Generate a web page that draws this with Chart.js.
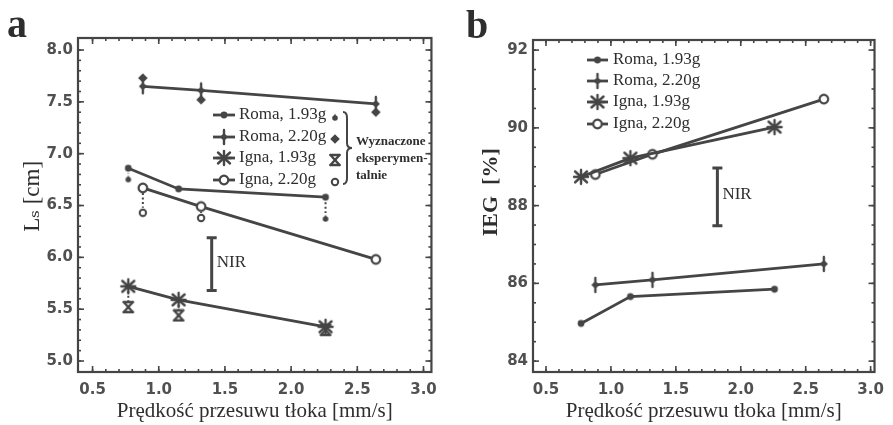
<!DOCTYPE html>
<html>
<head>
<meta charset="utf-8">
<script src="https://cdn.jsdelivr.net/npm/chart.js@4.4.1/dist/chart.umd.min.js"></script>
<style>
	body { margin: 0; background: #fff; width: 893px; height: 425px; overflow: hidden; position: relative; }
	#chartA { position: absolute; left: 0; top: 0; }
	#chartB { position: absolute; left: 446px; top: 0; }
</style>
</head>
<body>
<canvas id="chartA" width="446" height="425"></canvas>
<canvas id="chartB" width="447" height="425"></canvas>
<script>
// piston speed [mm/s] for the two seed masses
const speed193 = [0.77, 1.15, 2.26];
const speed220 = [0.88, 1.32, 2.64];

// panel a: length [cm], model lines and experimental points
const lenRoma193 = [6.86, 6.66, 6.58];
const lenRoma220 = [7.65, 7.61, 7.48];
const lenIgna193 = [5.72, 5.59, 5.33];
const lenIgna220 = [6.67, 6.49, 5.98];
const lenRoma193Exp = [6.76, null, 6.38];
const lenRoma220Exp = [7.73, 7.52, 7.40];
const lenIgna193Exp = [5.52, 5.44, 5.30];
const lenIgna220Exp = [6.43, 6.38, null];

// panel b: IEG [%]
const iegRoma193 = [84.97, 85.66, 85.85];
const iegRoma220 = [85.96, 86.09, 86.50];
const iegIgna193 = [88.74, 89.22, 90.02];
const iegIgna220 = [88.80, 89.32, 90.74];

// NIR bars
const nirAx = 1.40;
const nirA = [5.68, 6.19];
const nirBx = 1.82;
const nirB = [87.48, 88.97];

const seriesLabels = ["Roma, 1.93g", "Roma, 2.20g", "Igna, 1.93g", "Igna, 2.20g"];
const expLabel = ["Wyznaczone", "eksperymen-", "talnie"];
const xTicks = [0.5, 1.0, 1.5, 2.0, 2.5, 3.0];
const lenTicks = [5.0, 5.5, 6.0, 6.5, 7.0, 7.5, 8.0];
const iegTicks = [84, 86, 88, 90, 92];

const INK = "#454545";
const TEXT = "#2e2e2e";
const SERIF = "'Liberation Serif', 'DejaVu Serif', serif";
const SANS = "'DejaVu Sans', sans-serif";

function marker(size, draw) {
	const c = document.createElement("canvas");
	c.width = c.height = size;
	const g = c.getContext("2d");
	g.translate(size / 2, size / 2);
	g.strokeStyle = INK;
	g.fillStyle = INK;
	g.lineWidth = 2;
	g.lineCap = "round";
	draw(g);
	return c;
}

function seg(g, x0, y0, x1, y1) {
	g.beginPath();
	g.moveTo(x0, y0);
	g.lineTo(x1, y1);
	g.stroke();
}

function diamond(g, r) {
	g.beginPath();
	g.moveTo(0, -r);
	g.lineTo(r, 0);
	g.lineTo(0, r);
	g.lineTo(-r, 0);
	g.closePath();
	g.fill();
}

const markers = {
	dot: marker(10, g => { g.beginPath(); g.arc(0, 0, 3.4, 0, Math.PI * 2); g.fill(); }),
	plus: marker(18, g => { diamond(g, 4); g.lineWidth = 2.4; seg(g, 0, -7, 0, 7); }),
	star: marker(18, g => {
		g.lineWidth = 2.4;
		seg(g, 0, -7, 0, 7);
		seg(g, -7, 0, 7, 0);
		seg(g, -6, -5.5, 6, 5.5);
		seg(g, 6, -5.5, -6, 5.5);
	}),
	ring: marker(14, g => {
		g.lineWidth = 2.2;
		g.beginPath(); g.arc(0, 0, 4.3, 0, Math.PI * 2);
		g.fillStyle = "#fff"; g.fill(); g.stroke();
	}),
	expDot: marker(10, g => {
		g.beginPath(); g.arc(0, 1, 2.8, 0, Math.PI * 2); g.fill();
		g.beginPath(); g.moveTo(-1.4, 0); g.lineTo(0, -3.8); g.lineTo(1.4, 0); g.fill();
	}),
	expDiamond: marker(12, g => diamond(g, 4.8)),
	expHour: marker(14, g => {
		g.lineWidth = 2.4;
		seg(g, -4.5, -5, 4.5, -5);
		seg(g, -4.5, 5, 4.5, 5);
		seg(g, -4.5, -5, 4.5, 5);
		seg(g, 4.5, -5, -4.5, 5);
	}),
	expRing: marker(10, g => {
		g.lineWidth = 2;
		g.beginPath(); g.arc(0, 0, 3.2, 0, Math.PI * 2);
		g.fillStyle = "#fff"; g.fill(); g.stroke();
	}),
};

const pts = (xs, ys) => xs.map((x, i) => ({ x, y: ys[i] })).filter(p => p.y !== null);

function modelSet(label, xs, ys, m) {
	return {
		label, data: pts(xs, ys), showLine: true,
		borderColor: INK, borderWidth: 2.8, pointStyle: markers[m],
		pointRadius: 5, pointHoverRadius: 5,
	};
}

function expSet(label, xs, ys, m) {
	return {
		label, data: pts(xs, ys), showLine: false,
		pointStyle: markers[m], pointRadius: 5, pointHoverRadius: 5,
	};
}

function nirSet(x, ys) {
	return {
		label: "NIR", data: ys.map(y => ({ x, y })), showLine: true,
		borderColor: INK, borderWidth: 3, pointStyle: "line",
		pointRadius: 5, pointBorderWidth: 3, pointBorderColor: INK,
	};
}

function drawTicks(ctx, scale, a, values, len, horizontal) {
	values.forEach(v => {
		const p = scale.getPixelForValue(v);
		if (horizontal) {
			ctx.beginPath(); ctx.moveTo(p, a.bottom); ctx.lineTo(p, a.bottom - len); ctx.stroke();
			ctx.beginPath(); ctx.moveTo(p, a.top); ctx.lineTo(p, a.top + len); ctx.stroke();
		} else {
			ctx.beginPath(); ctx.moveTo(a.left, p); ctx.lineTo(a.left + len, p); ctx.stroke();
			ctx.beginPath(); ctx.moveTo(a.right, p); ctx.lineTo(a.right - len, p); ctx.stroke();
		}
	});
}

function steps(from, to, step) {
	const out = [];
	for (let v = from; v <= to + 1e-9; v += step) out.push(Math.round(v * 1000) / 1000);
	return out;
}

const panelDecor = {
	id: "panelDecor",
	beforeDatasetsDraw(chart, args, o) {
		const { ctx, chartArea: a, scales } = chart;
		ctx.save();
		ctx.strokeStyle = INK;
		ctx.lineWidth = 2.2;
		ctx.strokeRect(a.left, a.top, a.right - a.left, a.bottom - a.top);
		ctx.lineWidth = 1.6;
		drawTicks(ctx, scales.x, a, steps(0.5, 3.0, 0.1), 3, true);
		drawTicks(ctx, scales.x, a, xTicks, 6, true);
		drawTicks(ctx, scales.y, a, o.yMinor, 3, false);
		drawTicks(ctx, scales.y, a, o.yMajor, 6, false);
		// dotted links between model values and experimental values
		ctx.setLineDash([2, 2.5]);
		ctx.lineWidth = 2;
		(o.links || []).forEach(([xs, model, exp]) => {
			xs.forEach((x, i) => {
				if (exp[i] === null) return;
				const px = scales.x.getPixelForValue(x);
				const y0 = scales.y.getPixelForValue(model[i]);
				const y1 = scales.y.getPixelForValue(exp[i]);
				const d = Math.sign(y1 - y0);
				if (Math.abs(y1 - y0) < 10) return;
				ctx.beginPath(); ctx.moveTo(px, y0 + d * 5); ctx.lineTo(px, y1 - d * 5); ctx.stroke();
			});
		});
		ctx.restore();
	},
	afterDraw(chart, args, o) {
		const { ctx, scales } = chart;
		ctx.save();
		ctx.fillStyle = TEXT;
		ctx.textBaseline = "alphabetic";
		ctx.font = "bold 40px " + SERIF;
		ctx.fillText(o.letter, o.letterX, o.letterY);

		// NIR label next to the bar
		ctx.font = "17px " + SERIF;
		ctx.textBaseline = "middle";
		const nx = scales.x.getPixelForValue(o.nirX) + 5;
		const ny = (scales.y.getPixelForValue(o.nirY[0]) + scales.y.getPixelForValue(o.nirY[1])) / 2 - 2;
		ctx.fillText("NIR", nx, ny);

		// legend
		const L = o.legend;
		ctx.strokeStyle = INK;
		ctx.lineWidth = 2.8;
		L.rows.forEach((y, i) => {
			ctx.beginPath(); ctx.moveTo(L.x0, y); ctx.lineTo(L.x1, y); ctx.stroke();
			const m = markers[L.marks[i]];
			ctx.drawImage(m, (L.x0 + L.x1) / 2 - m.width / 2, y - m.height / 2);
			ctx.fillText(seriesLabels[i], L.tx, y);
			if (L.exp) {
				const e = markers[L.exp[i]];
				ctx.drawImage(e, L.ex - e.width / 2, y - e.height / 2 + 2);
			}
		});
		if (L.exp) {
			// curly brace
			const bx = L.ex + 11, t = L.rows[0] - 3, b = L.rows[3] + 4, m = (t + b) / 2;
			ctx.lineWidth = 2;
			ctx.beginPath();
			ctx.moveTo(bx - 3, t);
			ctx.quadraticCurveTo(bx + 1, t, bx + 1, t + 6);
			ctx.lineTo(bx + 1, m - 5);
			ctx.quadraticCurveTo(bx + 1, m, bx + 6, m);
			ctx.quadraticCurveTo(bx + 1, m, bx + 1, m + 5);
			ctx.lineTo(bx + 1, b - 6);
			ctx.quadraticCurveTo(bx + 1, b, bx - 3, b);
			ctx.stroke();
			ctx.font = "bold 13px " + SERIF;
			expLabel.forEach((s, i) => ctx.fillText(s, bx + 10, m - 6 + i * 17));
		}
		ctx.restore();
	},
};

function panelOptions(p) {
	return {
		responsive: false,
		animation: false,
		events: [],
		layout: { padding: { left: 0, right: p.padRight, top: p.padTop, bottom: 0 } },
		plugins: {
			legend: { display: false },
			tooltip: { enabled: false },
			panelDecor: p.decor,
		},
		scales: {
			x: {
				type: "linear", min: p.xMin, max: p.xMax,
				afterBuildTicks: s => { s.ticks = xTicks.map(v => ({ value: v })); },
				afterFit: s => { s.height = 53; },
				grid: { display: false, drawTicks: false },
				border: { display: false },
				ticks: {
					callback: v => v.toFixed(1), color: "#505050", padding: 9,
					font: { family: SANS, size: 15, weight: "bold" }, maxRotation: 0, autoSkip: false,
				},
				title: {
					display: true, text: "Prędkość przesuwu tłoka [mm/s]", color: TEXT,
					font: { family: SERIF, size: 21 }, padding: { top: 0, bottom: 1 },
				},
			},
			y: {
				type: "linear", min: p.yMin, max: p.yMax,
				afterBuildTicks: s => { s.ticks = p.yTicks.map(v => ({ value: v })); },
				afterFit: s => { s.width = p.yWidth; },
				grid: { display: false, drawTicks: false },
				border: { display: false },
				ticks: {
					callback: v => v.toFixed(p.yDigits), color: "#505050", padding: 5,
					font: { family: SANS, size: 15, weight: "bold" }, autoSkip: false,
				},
				title: {
					display: true, text: p.yTitle, color: TEXT,
					font: { family: SERIF, size: p.yTitleSize, weight: p.yTitleWeight }, padding: p.yTitlePad,
				},
			},
		},
	};
}

new Chart(document.querySelector("#chartA"), {
	type: "scatter",
	plugins: [panelDecor],
	data: {
		datasets: [
			modelSet(seriesLabels[0], speed193, lenRoma193, "dot"),
			modelSet(seriesLabels[1], speed220, lenRoma220, "plus"),
			modelSet(seriesLabels[2], speed193, lenIgna193, "star"),
			modelSet(seriesLabels[3], speed220, lenIgna220, "ring"),
			expSet("Roma, 1.93g exp.", speed193, lenRoma193Exp, "expDot"),
			expSet("Roma, 2.20g exp.", speed220, lenRoma220Exp, "expDiamond"),
			expSet("Igna, 1.93g exp.", speed193, lenIgna193Exp, "expHour"),
			expSet("Igna, 2.20g exp.", speed220, lenIgna220Exp, "expRing"),
			nirSet(nirAx, nirA),
		],
	},
	options: panelOptions({
		padRight: 10, padTop: 38, xMin: 0.39, xMax: 3.06,
		yMin: 4.894, yMax: 8.116, yTicks: lenTicks, yDigits: 1, yWidth: 78,
		yTitle: "   Lₛ [cm]", yTitleSize: 23, yTitleWeight: "normal", yTitlePad: { top: 19, bottom: 0 },
		decor: {
			letter: "a", letterX: 7, letterY: 37,
			yMajor: lenTicks, yMinor: steps(5.0, 8.0, 0.1),
			nirX: nirAx, nirY: nirA,
			links: [
				[speed193, lenRoma193, lenRoma193Exp],
				[speed220, lenRoma220, lenRoma220Exp],
				[speed193, lenIgna193, lenIgna193Exp],
				[speed220, lenIgna220, lenIgna220Exp],
			],
			legend: {
				x0: 213, x1: 235, tx: 239, rows: [115, 137, 158, 180],
				marks: ["dot", "plus", "star", "ring"],
				ex: 335, exp: ["expDot", "expDiamond", "expHour", "expRing"],
			},
		},
	}),
});

new Chart(document.querySelector("#chartB"), {
	type: "scatter",
	plugins: [panelDecor],
	data: {
		datasets: [
			modelSet(seriesLabels[0], speed193, iegRoma193, "dot"),
			modelSet(seriesLabels[1], speed220, iegRoma220, "plus"),
			modelSet(seriesLabels[2], speed193, iegIgna193, "star"),
			modelSet(seriesLabels[3], speed220, iegIgna220, "ring"),
			nirSet(nirBx, nirB),
		],
	},
	options: panelOptions({
		padRight: 6, padTop: 40, xMin: 0.40, xMax: 3.03,
		yMin: 83.72, yMax: 92.26, yTicks: iegTicks, yDigits: 0, yWidth: 87,
		yTitle: "     IEG  [%]", yTitleSize: 22, yTitleWeight: "bold", yTitlePad: { top: 32, bottom: 0 },
		decor: {
			letter: "b", letterX: 20, letterY: 38,
			yMajor: iegTicks, yMinor: steps(84, 92, 0.5),
			nirX: nirBx, nirY: nirB,
			links: [],
			legend: {
				x0: 141, x1: 162, tx: 167, rows: [60, 81, 102, 124],
				marks: ["dot", "plus", "star", "ring"],
			},
		},
	}),
});
</script>
</body>
</html>
